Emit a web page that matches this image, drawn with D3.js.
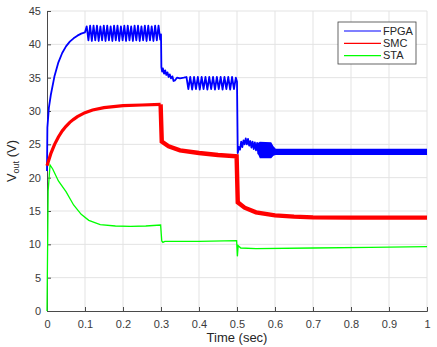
<!DOCTYPE html>
<html>
<head>
<meta charset="utf-8">
<script src="https://cdn.jsdelivr.net/npm/d3@7"></script>
<style>
  body { margin: 0; background: #fff; }
  svg { font-family: "Liberation Sans", Arial, sans-serif; }
</style>
</head>
<body>
<div id="chart"></div>
<script>
// tick labels
var xTicks = [0, 0.1, 0.2, 0.3, 0.4, 0.5, 0.6, 0.7, 0.8, 0.9, 1];
var yTicks = [0, 5, 10, 15, 20, 25, 30, 35, 40, 45];
var seriesNames = ["FPGA", "SMC", "STA"];

// FPGA: start-up, then ripple at each load step [t, V]
var fpgaStartup = [[0, 21], [0.001, 27.5], [0.005, 30.5], [0.01, 32.4], [0.02, 35.3], [0.03, 37.3],
  [0.04, 38.7], [0.05, 39.7], [0.06, 40.4], [0.07, 40.9], [0.08, 41.3], [0.09, 41.6], [0.1, 41.8]];
var fpgaStage1 = [[0.1045, 42.7], [0.109, 40.6], [0.1135, 42.8], [0.118, 40.5], [0.1225, 42.8], [0.127, 40.6],
  [0.1315, 42.8], [0.136, 40.5], [0.1405, 42.7], [0.145, 40.6], [0.1495, 42.8], [0.154, 40.5], [0.1585, 42.8],
  [0.163, 40.6], [0.1675, 42.7], [0.172, 40.5], [0.1765, 42.8], [0.181, 40.6], [0.1855, 42.8], [0.19, 40.5],
  [0.1945, 42.7], [0.199, 40.6], [0.2035, 42.8], [0.208, 40.5], [0.2125, 42.8], [0.217, 40.6], [0.2215, 42.7],
  [0.226, 40.5], [0.2305, 42.8], [0.235, 40.6], [0.2395, 42.8], [0.244, 40.5], [0.2485, 42.7], [0.253, 40.6],
  [0.2575, 42.8], [0.262, 40.5], [0.2665, 42.8], [0.271, 40.6], [0.2755, 42.7], [0.28, 40.5], [0.2845, 42.8],
  [0.289, 40.6], [0.2935, 42.8], [0.298, 40.7], [0.3, 41.5]];
var fpgaStage2 = [[0.301, 36.6], [0.303, 35.9], [0.305, 36.4], [0.308, 35.6], [0.311, 36.1], [0.314, 35.4],
  [0.317, 35.8], [0.32, 35.1], [0.323, 35.5], [0.326, 34.9], [0.33, 35.2], [0.333, 34.5], [0.337, 34.6],
  [0.342, 35.0], [0.35, 34.9], [0.36, 35.0], [0.367, 35.1], [0.372, 33.3], [0.377, 35.1], [0.382, 33.2],
  [0.387, 35.1], [0.392, 33.3], [0.397, 35.1], [0.402, 33.2], [0.407, 35.1], [0.412, 33.3], [0.417, 35.1],
  [0.422, 33.2], [0.427, 35.1], [0.432, 33.3], [0.437, 35.1], [0.442, 33.2], [0.447, 35.1], [0.452, 33.3],
  [0.457, 35.1], [0.462, 33.2], [0.467, 35.1], [0.472, 33.3], [0.477, 35.1], [0.482, 33.2], [0.487, 35.1],
  [0.492, 33.3], [0.497, 35.0], [0.5, 34.4]];
var fpgaStage3 = [[0.502, 23.7], [0.505, 24.6], [0.508, 24.2], [0.511, 25.4], [0.514, 24.6], [0.517, 25.6],
  [0.52, 25.0], [0.523, 25.9], [0.526, 25.0], [0.529, 25.8], [0.532, 24.8], [0.535, 25.5], [0.538, 24.5],
  [0.541, 25.4], [0.544, 24.3], [0.547, 25.3], [0.55, 24.1], [0.553, 25.2], [0.556, 23.6], [0.6, 23.9],
  [1, 23.85]];
// dense ripple band of FPGA after the last step: [t, low, high]
var fpgaBand = [[0.555, 23.6, 25.2], [0.56, 22.9, 25.4], [0.59, 22.9, 25.3], [0.596, 23.3, 24.7],
  [0.602, 23.4, 24.35], [1, 23.4, 24.35]];

// SMC [t, V]
var smc = [[0, 21.8], [0.01, 23.6], [0.02, 25.0], [0.03, 26.1], [0.04, 27.0], [0.05, 27.7], [0.06, 28.3],
  [0.07, 28.75], [0.08, 29.15], [0.1, 29.75], [0.12, 30.15], [0.15, 30.5], [0.2, 30.8], [0.25, 30.9],
  [0.299, 31.0], [0.302, 25.4], [0.32, 24.7], [0.35, 24.1], [0.4, 23.7], [0.45, 23.4], [0.499, 23.2],
  [0.502, 16.3], [0.52, 15.5], [0.55, 14.8], [0.6, 14.35], [0.65, 14.15], [0.7, 14.05], [0.8, 14.0],
  [1, 14.0]];

// STA [t, V]
var sta = [[0, 0], [0.003, 18], [0.008, 21.9], [0.015, 21.3], [0.03, 19.5], [0.05, 17.9], [0.07, 15.9],
  [0.09, 14.5], [0.11, 13.6], [0.14, 12.95], [0.18, 12.75], [0.22, 12.7], [0.26, 12.75], [0.299, 12.9],
  [0.302, 10.5], [0.305, 10.3], [0.31, 10.45], [0.4, 10.45], [0.499, 10.55], [0.501, 8.2], [0.503, 9.8],
  [0.51, 9.45], [0.55, 9.35], [0.7, 9.45], [0.85, 9.55], [1, 9.65]];

var width = 437, height = 347;
var margin = {top: 11, right: 10, bottom: 36, left: 47};
var iw = 427 - margin.left, ih = 311 - margin.top;

var svg = d3.select("#chart").append("svg")
    .attr("width", width)
    .attr("height", height);

var g = svg.append("g")
    .attr("transform", "translate(" + margin.left + "," + margin.top + ")");

var x = d3.scaleLinear().domain([0, 1]).range([0, iw]);
var y = d3.scaleLinear().domain([0, 45]).range([ih, 0]);

// grid
g.append("g").selectAll("line").data(xTicks.slice(1)).enter().append("line")
    .attr("x1", function(d) { return x(d); }).attr("x2", function(d) { return x(d); })
    .attr("y1", 0).attr("y2", ih)
    .attr("stroke", "#e3e3e3").attr("stroke-width", 1);
g.append("g").selectAll("line").data(yTicks.slice(1)).enter().append("line")
    .attr("x1", 0).attr("x2", iw)
    .attr("y1", function(d) { return y(d); }).attr("y2", function(d) { return y(d); })
    .attr("stroke", "#e3e3e3").attr("stroke-width", 1);

// axes, MATLAB style with inward ticks
var xAxis = g.append("g")
    .attr("transform", "translate(0," + ih + ")")
    .call(d3.axisBottom(x).tickValues(xTicks).tickSize(-4).tickPadding(9)
      .tickFormat(function(d) { return d3.format("")(d); }));
var yAxis = g.append("g")
    .call(d3.axisLeft(y).tickValues(yTicks).tickSize(-4).tickPadding(6));
[xAxis, yAxis].forEach(function(a) {
  a.select(".domain").attr("stroke", "#4a4a4a");
  a.selectAll(".tick line").attr("stroke", "#4a4a4a");
  a.selectAll(".tick text").attr("fill", "#3a3a3a").style("font-size", "11px")
    .style("font-family", "'Liberation Sans', Arial, sans-serif");
});

var line = d3.line()
    .x(function(d) { return x(d[0]); })
    .y(function(d) { return y(d[1]); });

// FPGA
var fpga = fpgaStartup.concat(fpgaStage1, fpgaStage2, fpgaStage3);
g.append("path").datum(fpgaBand)
    .attr("fill", "#0000ff")
    .attr("d", d3.area()
      .x(function(d) { return x(d[0]); })
      .y0(function(d) { return y(d[1]); })
      .y1(function(d) { return y(d[2]); }));
g.append("path").datum(fpga)
    .attr("fill", "none").attr("stroke", "#0000ff").attr("stroke-width", 1.8)
    .attr("stroke-linejoin", "round")
    .attr("d", line);

// SMC, thinner before the first step, thicker ripple after it
g.append("path").datum(smc.filter(function(d) { return d[0] < 0.3; }))
    .attr("fill", "none").attr("stroke", "#ff0000").attr("stroke-width", 3.2)
    .attr("d", line);
g.append("path").datum(smc.filter(function(d) { return d[0] >= 0.299; }))
    .attr("fill", "none").attr("stroke", "#ff0000").attr("stroke-width", 4.4)
    .attr("d", line);

// STA
g.append("path").datum(sta)
    .attr("fill", "none").attr("stroke", "#00ff00").attr("stroke-width", 1.3)
    .attr("d", line);

// axis labels
var yl = svg.append("text")
    .attr("transform", "translate(16," + (margin.top + ih / 2) + ") rotate(-90)")
    .attr("text-anchor", "middle")
    .attr("fill", "#262626")
    .style("font-size", "13px");
yl.append("tspan").text("V");
yl.append("tspan").attr("dy", 3).style("font-size", "9px").text("out");
yl.append("tspan").attr("dy", -3).text(" (V)");

svg.append("text")
    .attr("x", margin.left + iw / 2).attr("y", 342)
    .attr("text-anchor", "middle")
    .attr("fill", "#262626")
    .style("font-size", "13px")
    .text("Time (sec)");

// legend
var colors = ["#0000ff", "#ff0000", "#00ff00"];
var leg = svg.append("g").attr("transform", "translate(338,22)");
leg.append("rect")
    .attr("width", 78).attr("height", 42)
    .attr("fill", "#fff").attr("stroke", "#404040").attr("stroke-width", 0.8);
var items = leg.selectAll("g.item").data(seriesNames).enter().append("g")
    .attr("class", "item")
    .attr("transform", function(d, i) { return "translate(0," + (9 + i * 12.3) + ")"; });
items.append("line")
    .attr("x1", 6).attr("x2", 43)
    .attr("stroke", function(d, i) { return colors[i]; })
    .attr("stroke-width", 1.2);
items.append("text")
    .attr("x", 45).attr("dy", "0.35em")
    .attr("fill", "#262626")
    .style("font-size", "11px")
    .text(function(d) { return d; });
</script>
</body>
</html>
